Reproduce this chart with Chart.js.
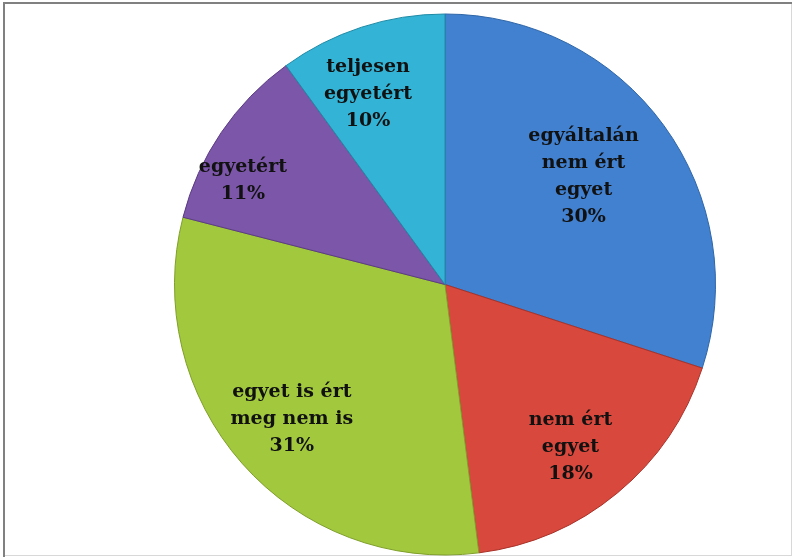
<!DOCTYPE html>
<html>
<head>
<meta charset="utf-8">
<script src="https://cdn.jsdelivr.net/npm/chart.js@4.4.0/dist/chart.umd.min.js"></script>
<style>
    html, body { margin: 0; padding: 0; background: #ffffff; }
    #wrap { position: relative; width: 795px; height: 558px; }
</style>
</head>
<body>
<div id="wrap"><canvas id="grafico" width="795" height="558"></canvas></div>
<script>
// Categorías y valores (%)
const categorias = [
    ['egyáltalán', 'nem ért', 'egyet'],
    ['nem ért', 'egyet'],
    ['egyet is ért', 'meg nem is'],
    ['egyetért'],
    ['teljesen', 'egyetért']
];
const valores = [30, 18, 31, 11, 10];

const colores = ['#4181d0', '#d9483c', '#a2c93e', '#7c56a9', '#33b4d6'];
const bordes = ['#2f66a8', '#a8322a', '#7f9f2a', '#5c3c84', '#1f8aa6'];

// Marco gris alrededor de la imagen
const marcoPlugin = {
    id: 'marco',
    beforeDraw(chart) {
        const ctx = chart.ctx;
        ctx.save();
        ctx.fillStyle = '#ffffff';
        ctx.fillRect(0, 0, chart.width, chart.height);
        ctx.strokeStyle = '#d8d8d8';
        ctx.lineWidth = 1;
        ctx.strokeRect(4.5, 3.5, 787, 552);
        ctx.strokeStyle = '#808080';
        ctx.lineWidth = 2;
        ctx.beginPath();
        ctx.moveTo(4, 557);
        ctx.lineTo(4, 3);
        ctx.lineTo(792, 3);
        ctx.stroke();
        ctx.restore();
    }
};

// Etiquetas dentro de cada porción
const etiquetasPlugin = {
    id: 'etiquetas',
    afterDatasetsDraw(chart, args, opts) {
        const ctx = chart.ctx;
        const meta = chart.getDatasetMeta(0);
        const datos = chart.data.datasets[0].data;
        const total = datos.reduce((a, b) => a + b, 0);
        ctx.save();
        ctx.font = opts.font;
        ctx.fillStyle = opts.color;
        ctx.textAlign = 'center';
        ctx.textBaseline = 'middle';
        meta.data.forEach((arc, i) => {
            const p = arc.getProps(['x', 'y', 'startAngle', 'endAngle', 'outerRadius'], true);
            const ang = (p.startAngle + p.endAngle) / 2 + opts.giro[i] * Math.PI / 180;
            const r = p.outerRadius * opts.radio[i];
            const cx = p.x + Math.cos(ang) * r;
            const cy = p.y + Math.sin(ang) * r;
            const lineas = [...chart.data.labels[i], Math.round(datos[i] / total * 100) + '%'];
            const y0 = cy - (lineas.length - 1) * opts.altoLinea / 2;
            lineas.forEach((t, j) => ctx.fillText(t, cx, y0 + j * opts.altoLinea));
        });
        ctx.restore();
    }
};

new Chart(document.getElementById('grafico'), {
    type: 'pie',
    data: {
        labels: categorias,
        datasets: [{
            data: valores,
            backgroundColor: colores,
            borderColor: bordes,
            borderWidth: 1
        }]
    },
    options: {
        responsive: false,
        animation: false,
        layout: { padding: { left: 174, right: 79, top: 13, bottom: 2 } },
        plugins: {
            legend: { display: false },
            tooltip: { enabled: false },
            etiquetas: {
                font: 'bold 19px "DejaVu Serif"',
                color: '#111111',
                altoLinea: 27,
                radio: [0.65, 0.76, 0.755, 0.84, 0.76],
                giro: [-2, 2, 0, -7, -4]
            }
        }
    },
    plugins: [marcoPlugin, etiquetasPlugin]
});
</script>
</body>
</html>
